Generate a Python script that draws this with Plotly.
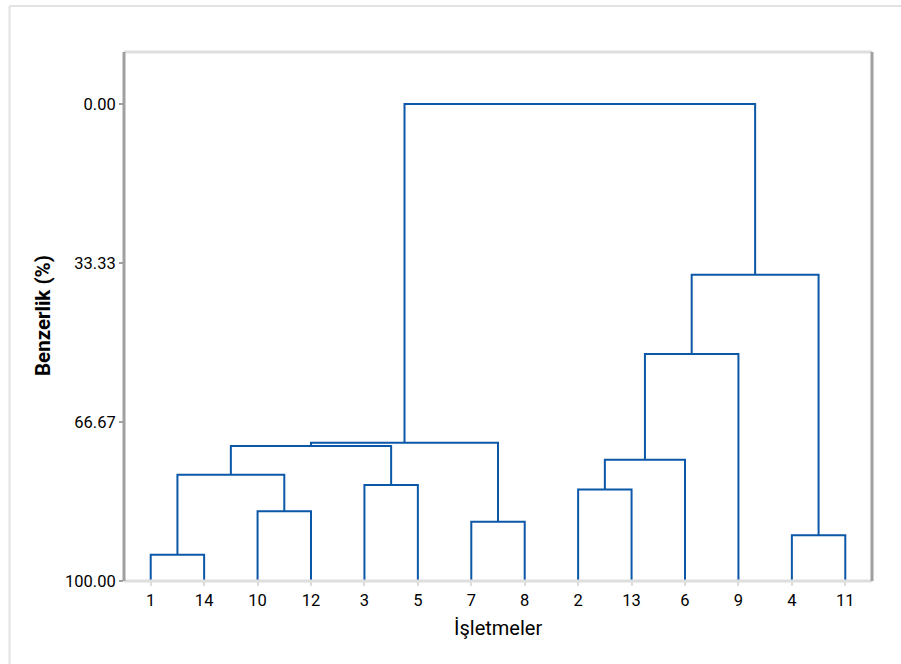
import plotly.graph_objects as go

# ---- data ----
leaf_labels = ["1", "14", "10", "12", "3", "5", "7", "8", "2", "13", "6", "9", "4", "11"]
# merges: (left child, right child, similarity %); children are leaf labels or merge names
merge_names = ["m1", "m2", "m3", "m4", "m5", "m6", "m7", "m8", "m9", "m10", "m11", "m12", "m13"]
merge_left = ["1", "10", "m1", "3", "m3", "7", "m5", "2", "m8", "m9", "4", "m10", "m7"]
merge_right = ["14", "12", "m2", "5", "m4", "8", "m6", "13", "6", "9", "11", "m11", "m12"]
merge_height = [94.5, 85.4, 77.7, 79.9, 71.7, 87.6, 71.0, 80.8, 74.6, 52.4, 90.4, 35.8, 0.0]
y_tickvals = [0.0, 33.33, 66.67, 100.0]
y_ticktext = ["0.00", "33.33", "66.67", "100.00"]

# ---- build dendrogram segments ----
pos = {lab: i + 1 for i, lab in enumerate(leaf_labels)}
hgt = {lab: 100.0 for lab in leaf_labels}
xs, ys = [], []
for name, a, b, h in zip(merge_names, merge_left, merge_right, merge_height):
    xa, xb = pos[a], pos[b]
    xs += [xa, xa, xb, xb, None]
    ys += [hgt[a], h, h, hgt[b], None]
    pos[name] = (xa + xb) / 2
    hgt[name] = h

fig = go.Figure()
fig.add_trace(go.Scatter(x=xs, y=ys, mode="lines",
                         line=dict(color="#0B57A8", width=2),
                         hoverinfo="skip", showlegend=False))

W, H = 901, 664
L, R, T, B = 124, 872, 52, 581
def px(x):
    return (x - L) / (R - L)
def py(y):
    return (B - y) / (B - T)

font = "Roboto, Open Sans, DejaVu Sans, sans-serif"
fig.update_layout(
    width=W, height=H,
    margin=dict(l=L, r=W - R, t=T, b=H - B),
    paper_bgcolor="white", plot_bgcolor="white",
    font=dict(family=font, size=16, color="#000000"),
    xaxis=dict(range=[0.5, 14.5], tickvals=list(range(1, 15)), ticktext=leaf_labels,
               showgrid=False, zeroline=False, showline=False,
               ticks="outside", ticklen=4, tickwidth=2, tickcolor="#dcdcdc",
               tickfont=dict(size=16.5), fixedrange=True),
    yaxis=dict(range=[100, -10.9], tickvals=y_tickvals, ticktext=y_ticktext,
               showgrid=False, zeroline=False, showline=False,
               ticks="outside", ticklen=4, tickwidth=2, tickcolor="#a0a0a0",
               tickfont=dict(size=16.5), fixedrange=True),
    shapes=[
        # outer frame (left & top)
        dict(type="line", xref="paper", yref="paper", x0=px(9.5), x1=px(905), y0=py(6), y1=py(6),
             line=dict(color="#e2e2e2", width=2)),
        dict(type="line", xref="paper", yref="paper", x0=px(9.5), x1=px(9.5), y0=py(6), y1=py(670),
             line=dict(color="#e2e2e2", width=2)),
        # plot frame
        dict(type="line", xref="paper", yref="paper", x0=0, x1=1, y0=1, y1=1,
             line=dict(color="#dedede", width=3)),
        dict(type="line", xref="paper", yref="paper", x0=0, x1=1, y0=0, y1=0,
             line=dict(color="#dedede", width=3)),
        dict(type="line", xref="paper", yref="paper", x0=0, x1=0, y0=0, y1=1,
             line=dict(color="#a0a0a0", width=3)),
        dict(type="line", xref="paper", yref="paper", x0=1, x1=1, y0=0, y1=1,
             line=dict(color="#a0a0a0", width=3)),
    ],
    annotations=[
        dict(text="İşletmeler", xref="paper", yref="paper", x=px(498), y=py(628),
             showarrow=False, font=dict(size=20, color="#000000"), xanchor="center", yanchor="middle"),
        dict(text="<b>Benzerlik (%)</b>", xref="paper", yref="paper", x=px(43), y=py(316),
             showarrow=False, textangle=-90, font=dict(size=20.5, color="#000000"),
             xanchor="center", yanchor="middle"),
    ],
)

fig.write_html("out.html", config={"displayModeBar": False})
